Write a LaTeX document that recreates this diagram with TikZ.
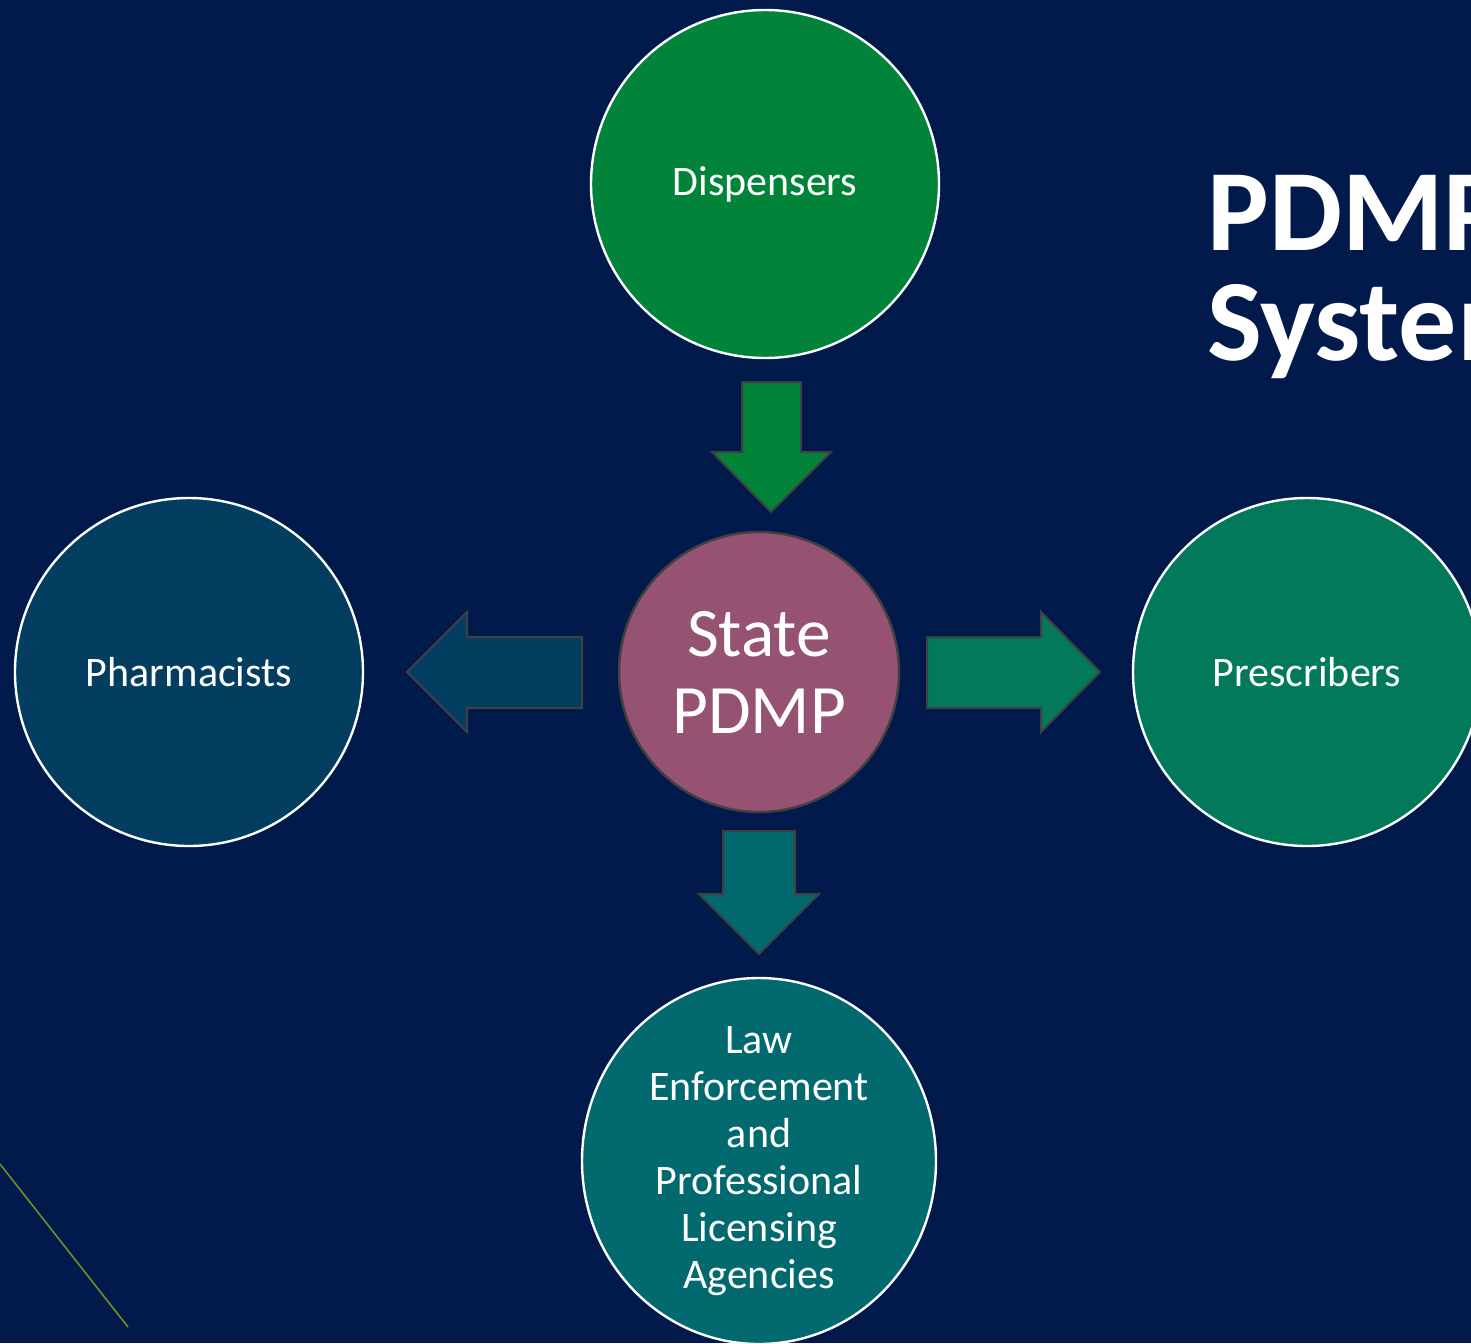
\documentclass[tikz,border=0pt]{standalone}
\usepackage{fontspec}
\setmainfont{Carlito}
\usetikzlibrary{shapes.geometric}
\definecolor{bg}{HTML}{011A4B}
\definecolor{cgreen}{HTML}{02833A}
\definecolor{cblue}{HTML}{033D60}
\definecolor{cteal}{HTML}{02795A}
\definecolor{claw}{HTML}{02696F}
\definecolor{cpdmp}{HTML}{955272}
\definecolor{edgegray}{HTML}{404040}
\definecolor{olive}{HTML}{6E8E2A}
\begin{document}
\begin{tikzpicture}[x=0.5pt,y=-0.5pt,
  bubble/.style={circle,draw=white,line width=1.2pt,inner sep=0pt,minimum size=174pt,text=white,font=\fontsize{21}{23.5}\selectfont,align=center},
  hub/.style={circle,draw=edgegray,line width=1.2pt,inner sep=0pt,minimum size=140pt,text=white,font=\fontsize{34.7}{38.5}\selectfont,align=center},
  blockarrow/.style={draw=edgegray,line width=1pt,line join=miter}]
\fill[bg] (0,0) rectangle (1471,1343);
\useasboundingbox (0,0) rectangle (1471,1343);
\clip (0,0) rectangle (1471,1343);

\node[bubble,fill=cgreen] (disp) at (765,184) {Dispensers};
\node[bubble,fill=cblue] (pharm) at (189,672) {Pharmacists};
\node[bubble,fill=cteal] (presc) at (1307,672) {Prescribers};
\node[bubble,ellipse,fill=claw,inner xsep=0pt,inner ysep=-12pt,minimum width=177pt,minimum height=183pt] (law) at (759,1161) {Law\\Enforcement\\and\\Professional\\Licensing\\Agencies};
\node[hub,fill=cpdmp] (pdmp) at (759,672) {State\\PDMP};

% block arrows
\draw[blockarrow,fill=cgreen] (742,382) -- (801,382) -- (801,452) -- (831,452) -- (771,512) -- (712,452) -- (742,452) -- cycle;
\draw[blockarrow,fill=cblue] (582,637) -- (582,708) -- (467,708) -- (467,732) -- (407,672) -- (467,612) -- (467,637) -- cycle;
\draw[blockarrow,fill=cteal] (927,637) -- (927,708) -- (1041,708) -- (1041,732) -- (1100,672) -- (1041,612) -- (1041,637) -- cycle;
\draw[blockarrow,fill=claw] (723,831) -- (795,831) -- (795,894) -- (819,894) -- (759,954) -- (699,894) -- (723,894) -- cycle;

% title
\node[anchor=base west,inner sep=0pt,text=white,font=\fontsize{58}{55}\bfseries\selectfont,align=left] (title) at (1207,360) {PDMP\\System};

% decorative line
\draw[olive,line width=0.8pt] (0,1164) -- (128,1327);
\end{tikzpicture}
\end{document}
